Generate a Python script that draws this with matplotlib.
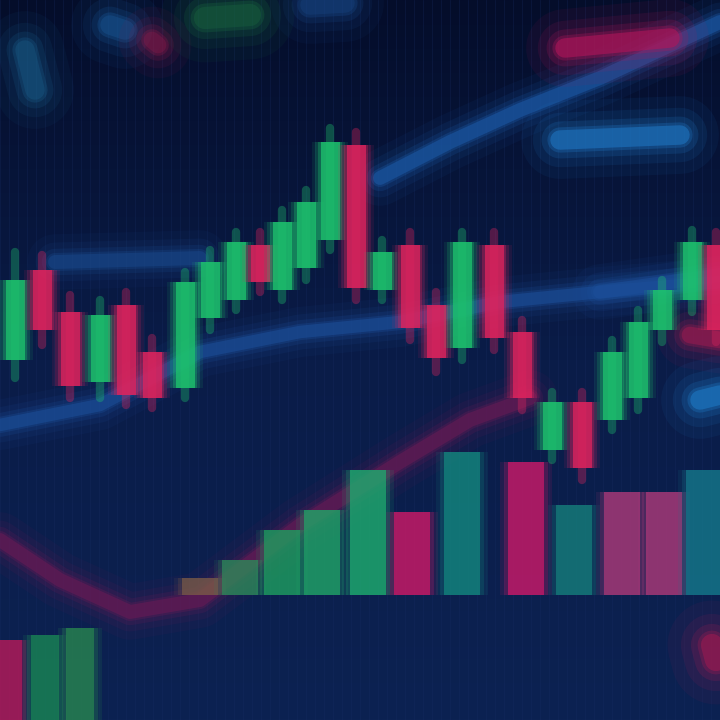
import numpy as np
import matplotlib
matplotlib.use("Agg")
import matplotlib.pyplot as plt
from matplotlib.colors import LinearSegmentedColormap

# ---------------- data (price units, higher = up) ----------------
candle_x = [15, 42, 70, 100, 126, 152, 185, 210, 236, 260, 282, 306, 330, 356, 382, 410, 436, 462, 494, 522, 552, 582, 612, 638, 662, 692, 716]
opens  = [360, 270, 312, 382, 305, 352, 388, 318, 300, 245, 290, 268, 240, 145, 290, 245, 305, 348, 245, 332, 450, 402, 420, 398, 330, 300, 245]
closes = [280, 330, 386, 315, 395, 398, 282, 262, 242, 282, 222, 202, 142, 288, 252, 328, 358, 242, 338, 398, 402, 468, 352, 322, 290, 242, 330]
highs  = [252, 255, 295, 300, 292, 338, 272, 250, 232, 232, 210, 190, 128, 132, 240, 232, 292, 232, 232, 320, 392, 392, 340, 310, 280, 230, 232]
lows   = [378, 345, 398, 398, 405, 408, 398, 330, 310, 292, 300, 280, 250, 300, 300, 340, 372, 360, 350, 410, 460, 480, 430, 410, 342, 312, 342]

vol_x      = [200, 240, 282, 322, 368, 412, 462, 526, 574, 622, 664, 704]
vol_top    = [578, 560, 530, 510, 470, 512, 452, 462, 505, 492, 492, 470]
vol_colors = ["#7a5a48", "#2f8a5a", "#1fa060", "#21a868", "#1fb070", "#d21a68", "#148a80", "#d01a6a", "#16807c", "#b03a7a", "#b03a7a", "#157a8c"]
vol_base = 595

low_x      = [8, 45, 80]
low_top    = [640, 635, 628]
low_colors = ["#c01a5a", "#1a8a55", "#2a8a50"]

ma_blue_x = [0, 100, 200, 300, 400, 500, 600, 720]
ma_blue_y = [425, 405, 352, 332, 322, 302, 292, 282]
ma_up_x = [380, 450, 520, 600, 720]
ma_up_y = [178, 142, 110, 78, 22]
ma_pink_x = [0, 60, 130, 200, 300, 400, 470, 530]
ma_pink_y = [540, 580, 612, 600, 525, 462, 420, 398]
band_x = [55, 200]
band_y = [262, 258]

# ---------------- drawing ----------------
fig = plt.figure(figsize=(7.2, 7.2), dpi=100)
ax = fig.add_axes([0, 0, 1, 1])
ax.set_xlim(0, 720)
ax.set_ylim(720, 0)
ax.axis("off")

grad = np.linspace(0, 1, 256).reshape(-1, 1)
bgcmap = LinearSegmentedColormap.from_list("bg", ["#040d2a", "#0a1c48", "#0c2252"])
ax.imshow(grad, extent=[0, 720, 720, 0], cmap=bgcmap, aspect="auto", zorder=0)

for gx in np.arange(0, 720, 9):
    ax.axvline(gx, color="#1a2f66", lw=0.6, alpha=0.3, zorder=0.5)


def glow_line(xs, ys, color, lw, alpha=0.8, z=1):
    for k, a in [(4.0, 0.08), (2.8, 0.12), (1.9, 0.2), (1.3, 0.3), (1.0, alpha)]:
        ax.plot(xs, ys, color=color, lw=lw * k, alpha=a, solid_capstyle="round", zorder=z)

# moving averages / bands
glow_line(ma_blue_x, ma_blue_y, "#1c4f9a", 9, 0.55, 1)
glow_line(ma_up_x, ma_up_y, "#1c5aa8", 10, 0.55, 1)
glow_line(band_x, band_y, "#1a4a8e", 10, 0.45, 1)
glow_line(ma_pink_x, ma_pink_y, "#6a1a55", 10, 0.55, 1)
glow_line([560, 680], [140, 135], "#1e74c0", 14, 0.6, 1)
glow_line([565, 670], [48, 38], "#b0165a", 14, 0.6, 1)
glow_line([600, 720], [292, 275], "#1c4f9a", 10, 0.5, 1)
glow_line([690, 720], [335, 340], "#a01a50", 12, 0.5, 1)
glow_line([700, 720], [400, 395], "#1e7cc8", 14, 0.55, 1)
# top-left blurry legend-like marks
glow_line([25, 35], [50, 90], "#1a5e8a", 14, 0.35, 1)
glow_line([110, 125], [25, 30], "#1a5a9a", 14, 0.35, 1)
glow_line([152, 158], [40, 45], "#8a1a4a", 12, 0.35, 1)
glow_line([205, 250], [18, 15], "#1a6a40", 16, 0.35, 1)
glow_line([310, 345], [5, 3], "#1a4a8a", 14, 0.3, 1)

# volume bars
for x, t, c in zip(vol_x, vol_top, vol_colors):
    for w, a in [(52, 0.12), (44, 0.22), (36, 0.7)]:
        ax.bar(x, vol_base - t, bottom=t, width=w, color=c, alpha=a, zorder=2, linewidth=0)
for x, t, c in zip(low_x, low_top, low_colors):
    for w, a in [(44, 0.15), (36, 0.25), (28, 0.65)]:
        ax.bar(x, 720 - t, bottom=t, width=w, color=c, alpha=a, zorder=2, linewidth=0)
glow_line([712, 716], [645, 660], "#a01a50", 16, 0.55, 2)

# candlesticks
for x, o, c, h, l in zip(candle_x, opens, closes, highs, lows):
    col = "#1ec46e" if c < o else "#e0245e"
    ax.plot([x, x], [h, l], color=col, lw=6, alpha=0.35, zorder=3, solid_capstyle="round")
    top, bot = min(o, c), max(o, c)
    for w, a in [(36, 0.1), (30, 0.18), (24, 0.3), (19, 0.75)]:
        ax.bar(x, bot - top, bottom=top, width=w, color=col, alpha=a, zorder=3, linewidth=0)

fig.savefig("out.png", dpi=100, facecolor="#07143a")
